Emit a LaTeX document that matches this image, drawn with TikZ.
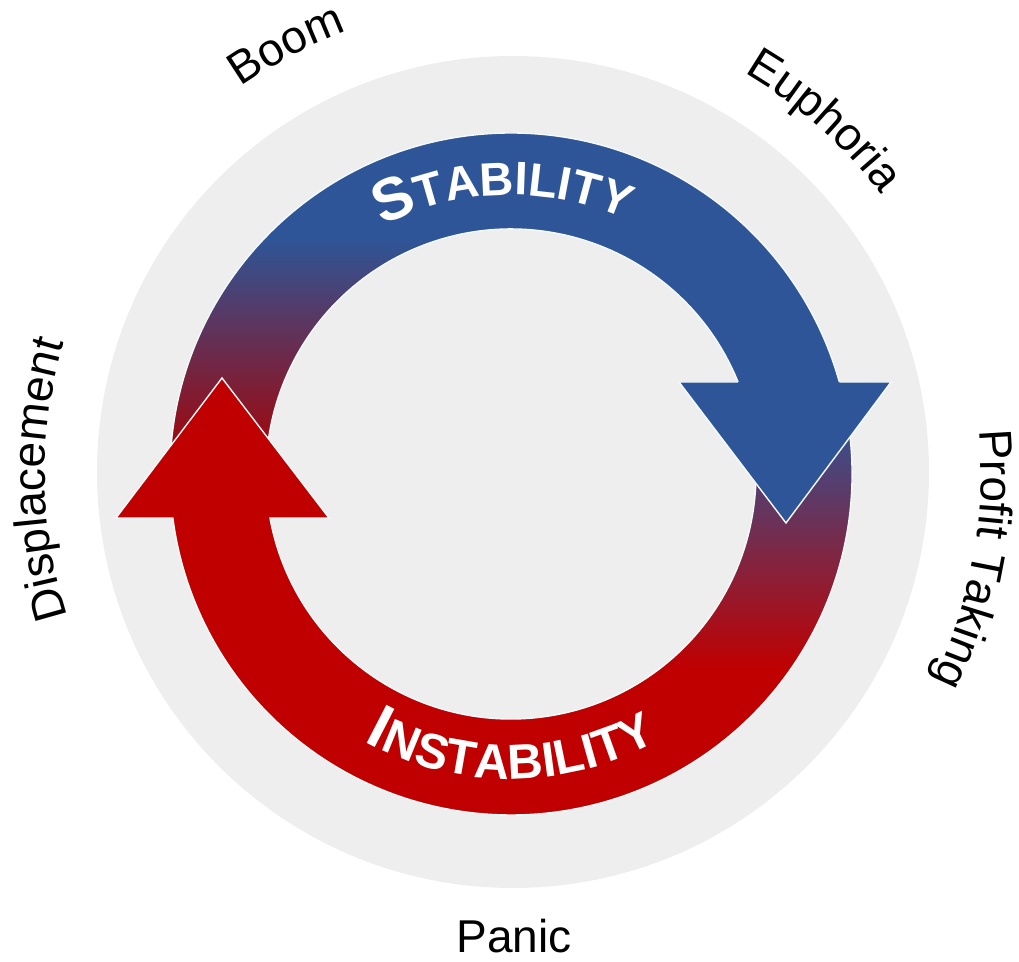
\documentclass[tikz,border=0pt]{standalone}
\usepackage{fontspec}
\setmainfont{Liberation Sans}
\usetikzlibrary{decorations.text}
\definecolor{bgc}{HTML}{EEEEEE}
\definecolor{bluec}{HTML}{2E5597}
\definecolor{redc}{HTML}{C00000}
\definecolor{edgec}{HTML}{F4FAFA}
\tikzset{
  edgeline/.style={draw=edgec, line width=0.8pt, line join=miter},
  outerlabel/.style={decorate, decoration={text along path, text align=center,
      text={|\fontsize{26.2pt}{30pt}\selectfont|#1}}},
  ringlabel/.style n args={4}{decorate, decoration={text along path, text align=center, text color=white,
      text={|\bfseries\fontsize{#3}{40pt}\selectfont|#1|\bfseries\fontsize{#4}{32pt}\selectfont|#2}}}
}
\begin{document}
\begin{tikzpicture}[x=0.02cm,y=0.02cm]
\useasboundingbox (-511,-488) rectangle (508,474);
% background disc
\fill[bgc] (2,2) circle[radius=416];
% named corners of the arrow heads
\coordinate (bL) at (168,92);
\coordinate (bR) at (380,92);
\coordinate (bT) at (275,-49);
\coordinate (rL) at (-395,-44);
\coordinate (rR) at (-182,-44);
\coordinate (rT) at (-289,96);
% ---------- blue arrow (Stability) ----------
\begin{scope}
  \clip (183:341) arc[start angle=183,end angle=15.65,radius=341] -- (bR) -- (bT) -- (bL)
        -- (22.06:245) arc[start angle=22.06,end angle=183,radius=245] -- cycle;
  \fill[bluec] (-450,-450) rectangle (450,450);
  \fill[redc!88!black] (-450,-120) rectangle (0,5);
  \shade[bottom color=redc!88!black, top color=bluec] (-450,5) rectangle (0,235);
\end{scope}
\path[edgeline] (183:341) arc[start angle=183,end angle=15.65,radius=341] -- (bR) -- (bT) -- (bL)
        -- (22.06:245) arc[start angle=22.06,end angle=183,radius=245] -- cycle;
% ---------- red arrow (Instability) ----------
\begin{scope}
  \clip (15:341) arc[start angle=15,end angle=-172.59,radius=341] -- (rL) -- (rT) -- (rR)
        -- (-169.66:245) arc[start angle=-169.66,end angle=15,radius=245] -- cycle;
  \fill[redc] (-450,-450) rectangle (450,450);
  \shade[bottom color=redc, top color=bluec] (0,-195) rectangle (450,60);
  \fill[bluec] (0,60) rectangle (450,120);
\end{scope}
\path[edgeline] (15:341) arc[start angle=15,end angle=-172.59,radius=341] -- (rL) -- (rT) -- (rR)
        -- (-169.66:245) arc[start angle=-169.66,end angle=15,radius=245] -- cycle;
% blue head again, on top of the red tail
\fill[bluec] (bR) -- (bT) -- (bL) -- cycle;
\path[edgeline] (328.3,92) -- (bR) -- (bT) -- (bL) -- (227.0,92);
% ---------- ring texts ----------
\path[ringlabel={S}{TABILITY}{34pt}{26.7pt}] (183:279) arc[start angle=183,end angle=0,radius=279];
\path[ringlabel={I}{NSTABILITY}{35.5pt}{28pt}] (179:305) arc[start angle=179,end angle=361,radius=305];
% ---------- outer labels ----------
\path[outerlabel={Boom}] (147.65:472) arc[start angle=147.65,end angle=87.65,radius=472];
\path[outerlabel={Euphoria}] (78.4:464) arc[start angle=78.4,end angle=18.4,radius=464];
\path[outerlabel={Profit Taking}] (19.6:470) arc[start angle=19.6,end angle=-40.4,radius=470];
\path[outerlabel={Displacement}] (220.7:466) arc[start angle=220.7,end angle=140.7,radius=466];
\node[anchor=base, inner sep=0pt, font=\fontsize{26.2pt}{30pt}\selectfont] (panic) at (3,-479) {Panic};
\end{tikzpicture}
\end{document}
